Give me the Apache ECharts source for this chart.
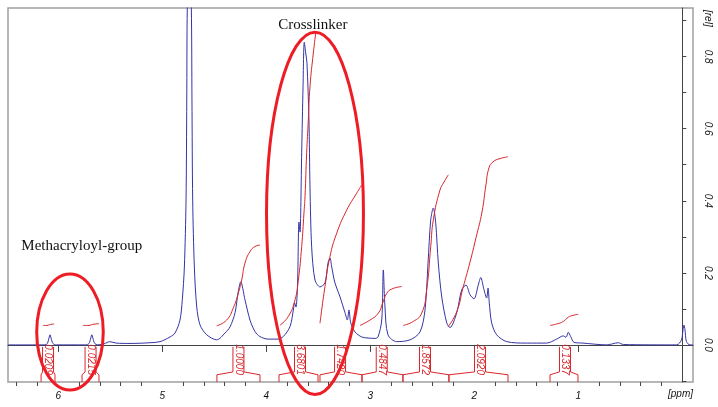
<!DOCTYPE html>
<html><head><meta charset="utf-8">
<script src="https://cdn.jsdelivr.net/npm/echarts@6/dist/echarts.min.js"></script>
<style>html,body{margin:0;padding:0;background:#fff}#c{width:718px;height:407px}</style>
</head><body><div id="c"></div>
<script>
// ---- data (ppm, relative intensity) ----
const spectrum = [[6.484,0],[6.25,0],[6.13,0],[6.105,0.004],[6.09,0.019],[6.08,0.028],[6.07,0.019],[6.052,0.004],[6.02,0],
[5.74,0],[5.705,0.004],[5.688,0.019],[5.678,0.028],[5.668,0.019],[5.65,0.004],[5.62,0],
[5.56,0.003],[5.505,0.009],[5.445,0.005],[5.31,0.004],[5.118,0.006],[5.022,0.009],[4.926,0.022],[4.878,0.033],[4.830,0.069],[4.808,0.125],[4.788,0.216],[4.772,0.402],[4.765,0.680],[4.760,0.935],[4.741,1.123],[4.721,0.935],[4.715,0.680],[4.708,0.402],[4.692,0.216],[4.669,0.105],[4.637,0.055],[4.573,0.028],[4.477,0.014],[4.397,0.033],[4.349,0.050],[4.301,0.089],[4.272,0.144],[4.246,0.175],[4.205,0.125],[4.157,0.069],[4.109,0.037],[4.061,0.023],[3.984,0.016],[3.888,0.016],[3.837,0.023],[3.772,0.051],[3.740,0.097],[3.729,0.117],[3.715,0.105],[3.700,0.166],[3.686,0.341],[3.676,0.313],[3.660,0.533],[3.647,0.716],[3.635,0.840],[3.621,0.810],[3.609,0.782],[3.590,0.624],[3.580,0.438],[3.564,0.272],[3.532,0.180],[3.484,0.161],[3.436,0.172],[3.407,0.227],[3.388,0.241],[3.371,0.216],[3.340,0.172],[3.291,0.133],[3.243,0.089],[3.221,0.069],[3.205,0.097],[3.188,0.061],[3.147,0.036],[3.083,0.022],[3.022,0.019],[2.955,0.018],[2.926,0.022],[2.890,0.069],[2.875,0.208],[2.859,0.105],[2.830,0.028],[2.746,0.009],[2.618,0.014],[2.522,0.036],[2.474,0.097],[2.445,0.227],[2.419,0.347],[2.394,0.380],[2.371,0.338],[2.346,0.227],[2.313,0.133],[2.265,0.061],[2.234,0.048],[2.169,0.089],[2.121,0.153],[2.080,0.166],[2.041,0.139],[2.003,0.128],[1.962,0.166],[1.938,0.187],[1.907,0.153],[1.881,0.130],[1.868,0.158],[1.856,0.117],[1.833,0.061],[1.785,0.028],[1.688,0.009],[1.496,0.005],[1.304,0.005],[1.208,0.016],[1.144,0.025],[1.118,0.021],[1.096,0.035],[1.073,0.023],[1.041,0.007],[0.955,0.005],[0.727,0],[0.615,0.006],[0.567,0.001],[0.054,0],[0.008,0.014],[-0.007,0.042],[-0.016,0.055],[-0.026,0.042],[-0.040,0.009],[-0.074,0],[-0.103,0]];

// integral curves
const int1 = [[6.147,0.054],[6.109,0.054],[6.085,0.056],[6.070,0.057],[6.041,0.058]];
const int2 = [[5.763,0.054],[5.705,0.054],[5.681,0.056],[5.666,0.057],[5.609,0.059]];
const int3 = [[4.477,0.053],[4.381,0.069],[4.317,0.103],[4.269,0.144],[4.237,0.180],[4.205,0.227],[4.157,0.259],[4.109,0.273],[4.061,0.277]];
const int4 = [[3.868,0.055],[3.788,0.079],[3.724,0.125],[3.692,0.180],[3.660,0.273],[3.638,0.366],[3.628,0.411],[3.612,0.533],[3.596,0.624],[3.580,0.717],[3.548,0.810],[3.525,0.865]];
const int5 = [[3.484,0.060],[3.436,0.162],[3.388,0.245],[3.323,0.310],[3.227,0.374],[3.131,0.421],[3.083,0.444]];
const int6 = [[3.099,0.054],[3.003,0.069],[2.923,0.088],[2.881,0.116],[2.842,0.143],[2.794,0.155],[2.698,0.162]];
const int7 = [[2.683,0.054],[2.587,0.065],[2.506,0.088],[2.458,0.153],[2.419,0.273],[2.394,0.347],[2.330,0.430],[2.291,0.452],[2.250,0.472]];
const int8 = [[2.250,0.051],[2.169,0.092],[2.109,0.158],[2.041,0.230],[1.984,0.297],[1.926,0.369],[1.888,0.444],[1.859,0.491],[1.820,0.508],[1.753,0.517],[1.676,0.522]];
const int9 = [[1.272,0.054],[1.208,0.058],[1.144,0.065],[1.096,0.077],[1.063,0.081],[1.000,0.085]];
const integralCurves = [int1,int2,int3,int4,int5,int6,int7,int8,int9];

// integral regions
const integralStart = [6.166,5.772,4.475,3.878,3.484,3.080,2.686,2.244,1.272];
const integralEnd   = [6.032,5.609,4.061,3.503,3.080,2.686,2.244,1.676,1.003];
const integralMid   = [6.099,5.690,4.268,3.676,3.291,2.890,2.474,1.945,1.128];
const integralLabels = ['0.0209','0.0215','1.0000','3.6801','1.7420','0.4847','1.8572','2.0920','0.1337'];

// axis ticks
const xMajorTicks = [0,1,2,3,4,5,6];
const xMinorTicks = [0.2,0.4,0.6,0.8,1.2,1.4,1.6,1.8,2.2,2.4,2.6,2.8,3.2,3.4,3.6,3.8,4.2,4.4,4.6,4.8,5.2,5.4,5.6,5.8,6.2,6.4];
const xTickLabels = [1,2,3,4,5,6];
const yTickLabels = [0,0.2,0.4,0.6,0.8];
const yTicks = [-0.1,0,0.1,0.2,0.3,0.4,0.5,0.6,0.7,0.8,0.9];

// annotations
const ellipseCenters = [[5.888,0.036],[3.532,0.365]];
const ellipseRadii = [[0.320,0.161],[0.466,0.503]];
const annotationPos = [[5.775,0.275],[3.553,0.888]];
const annotationText = ['Methacryloyl-group','Crosslinker'];

const X_MIN = -0.103, X_MAX = 6.484, Y_MIN = -0.103, Y_MAX = 0.935;
const RED = '#d8262b';
const BRIGHT = '#ee1c24';
const FONT = 'Liberation Sans, Arial, sans-serif';

const chart = echarts.init(document.getElementById('c'));

const series = [];
series.push({
  type:'line', data: spectrum, showSymbol:false, smooth:0.3, clip:true,
  lineStyle:{color:'#3434a6', width:1}, z:3, silent:true
});
integralCurves.forEach(c => series.push({
  type:'line', data:c, showSymbol:false, smooth:true,
  lineStyle:{color:RED, width:1}, z:4, silent:true
}));
// integral brackets
series.push({
  type:'custom', z:5, silent:true,
  data: integralStart.map((s,i)=>[s, integralEnd[i], integralMid[i], i]),
  renderItem(params, api){
    const s = api.value(0), e = api.value(1), m = api.value(2), i = api.value(3);
    const a1 = api.coord([s, Y_MIN]), a2 = api.coord([s, -0.083]);
    const b1 = api.coord([e, Y_MIN]), b2 = api.coord([e, -0.083]);
    const cH = api.coord([m, -0.075]), cT = api.coord([m, -0.0055]);
    const cm = api.coord([m, -0.041]);
    const hw = 5.5;
    return {type:'group', children:[
      {type:'polyline', shape:{points:[a1,a2,[cH[0]-hw,cH[1]],[cT[0]-hw,cT[1]]]}, style:{stroke:RED, fill:null, lineWidth:1}},
      {type:'polyline', shape:{points:[b1,b2,[cH[0]+hw,cH[1]],[cT[0]+hw,cT[1]]]}, style:{stroke:RED, fill:null, lineWidth:1}},
      {type:'text', x:cm[0], y:cm[1], rotation:-Math.PI/2,
       style:{text:integralLabels[i], fill:RED, font:'italic 10px '+FONT, align:'center', verticalAlign:'middle'}}
    ]};
  }
});
// ellipses
series.push({
  type:'custom', z:6, silent:true,
  data: ellipseCenters.map((c,i)=>[c[0],c[1],ellipseRadii[i][0],ellipseRadii[i][1]]),
  renderItem(params, api){
    const c = api.coord([api.value(0), api.value(1)]);
    const sz = api.size([api.value(2), api.value(3)]);
    return {type:'ellipse', shape:{cx:c[0], cy:c[1], rx:sz[0], ry:sz[1]},
      style:{fill:null, stroke:BRIGHT, lineWidth:3}};
  }
});
// annotation text
series.push({
  type:'custom', z:7, silent:true,
  data: annotationPos.map((p,i)=>[p[0],p[1],i]),
  renderItem(params, api){
    const c = api.coord([api.value(0), api.value(1)]);
    return {type:'text', x:c[0], y:c[1],
      style:{text:annotationText[api.value(2)], fill:'#111', font:'15px Liberation Serif, Times New Roman, serif', align:'center', verticalAlign:'middle'}};
  }
});

const axisTextStyle = {color:'#111', fontStyle:'italic', fontSize:10, fontFamily:FONT};

chart.setOption({
  animation:false,
  backgroundColor:'#fff',
  grid:{left:8, right:25, top:8, bottom:25, show:true, borderColor:'#a0a0a0', borderWidth:1.5, backgroundColor:'transparent'},
  xAxis:[
    {type:'value', min:X_MIN, max:X_MAX, inverse:true, position:'bottom',
     axisLine:{show:true, lineStyle:{color:'#444', width:1}},
     axisTick:{show:true, length:7, inside:false, customValues:xMajorTicks, lineStyle:{color:'#444'}},
     axisLabel:{show:true, customValues:xTickLabels, margin:9, ...axisTextStyle},
     splitLine:{show:false}},
    {type:'value', min:X_MIN, max:X_MAX, inverse:true, position:'bottom',
     axisLine:{show:false},
     axisTick:{show:true, length:4, inside:false, customValues:xMinorTicks, lineStyle:{color:'#444'}},
     axisLabel:{show:false},
     splitLine:{show:false}}
  ],
  yAxis:{type:'value', min:Y_MIN, max:Y_MAX, position:'right',
     axisLine:{show:true, lineStyle:{color:'#444', width:1}},
     axisTick:{show:true, length:4, inside:false, customValues:yTicks, lineStyle:{color:'#444'}},
     axisLabel:{show:true, customValues:yTickLabels, rotate:-90, margin:10, formatter:v=>v.toFixed(1), ...axisTextStyle},
     splitLine:{show:false}},
  graphic:[
    {type:'text', right:5, top:10, rotation:-Math.PI/2, style:{text:'[rel]', fill:'#111', font:'italic 10px '+FONT}},
    {type:'text', right:25, top:389, style:{text:'[ppm]', fill:'#111', font:'italic 10px '+FONT}}
  ],
  series: series
});
</script>
</body></html>
